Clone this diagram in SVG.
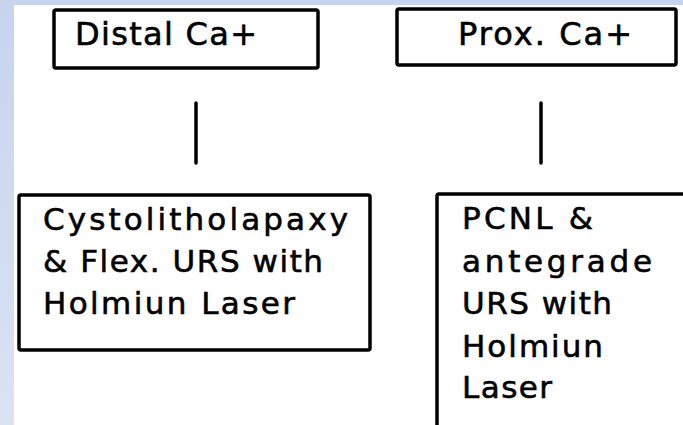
<svg xmlns="http://www.w3.org/2000/svg" width="683" height="425" viewBox="0 0 683 425">
<style>
.box{fill:#fff;stroke:#000;stroke-width:3.5;}
.t{font-family:"DejaVu Sans","Liberation Sans",sans-serif;font-size:31px;fill:#000;stroke:#000;stroke-width:0.6;}
.h{font-size:32px;}
.c{stroke:#000;stroke-width:3.5;stroke-linecap:round;}
</style>
<defs>
<linearGradient id="bg" x1="0" y1="0" x2="0" y2="1">
<stop offset="0" stop-color="#c6d4ee"/>
<stop offset="1" stop-color="#dbe3f3"/>
</linearGradient>
</defs>
<rect x="0" y="0" width="683" height="425" fill="url(#bg)"/>
<rect x="14" y="5" width="669" height="420" fill="#fff"/>
<g id="connectors">
<line class="c" x1="196" y1="103" x2="196" y2="163"/>
<line class="c" x1="541" y1="103" x2="541" y2="163"/>
</g>
<g id="distal">
<rect class="box" x="54" y="10" width="264" height="58" rx="2"/>
<text class="t h" x="75" y="45" textLength="182" lengthAdjust="spacing">Distal Ca+</text>
</g>
<g id="prox">
<rect class="box" x="397" y="9" width="279" height="56" rx="2"/>
<text class="t h" x="458" y="45" textLength="174" lengthAdjust="spacing">Prox. Ca+</text>
</g>
<g id="cysto">
<rect class="box" x="19" y="195" width="351" height="155" rx="2"/>
<text class="t" x="43" y="230" textLength="305" lengthAdjust="spacing">Cystolitholapaxy</text>
<text class="t" x="43" y="272" textLength="280" lengthAdjust="spacing">&amp; Flex. URS with</text>
<text class="t" x="43" y="314" textLength="252" lengthAdjust="spacing">Holmiun Laser</text>
</g>
<g id="pcnl">
<rect class="box" x="437" y="194" width="260" height="250" rx="2"/>
<text class="t" x="462" y="229" textLength="131" lengthAdjust="spacing">PCNL &amp;</text>
<text class="t" x="462" y="272" textLength="190" lengthAdjust="spacing">antegrade</text>
<text class="t" x="462" y="314" textLength="150" lengthAdjust="spacing">URS with</text>
<text class="t" x="462" y="357" textLength="141" lengthAdjust="spacing">Holmiun</text>
<text class="t" x="462" y="398" textLength="90" lengthAdjust="spacing">Laser</text>
</g>
</svg>
